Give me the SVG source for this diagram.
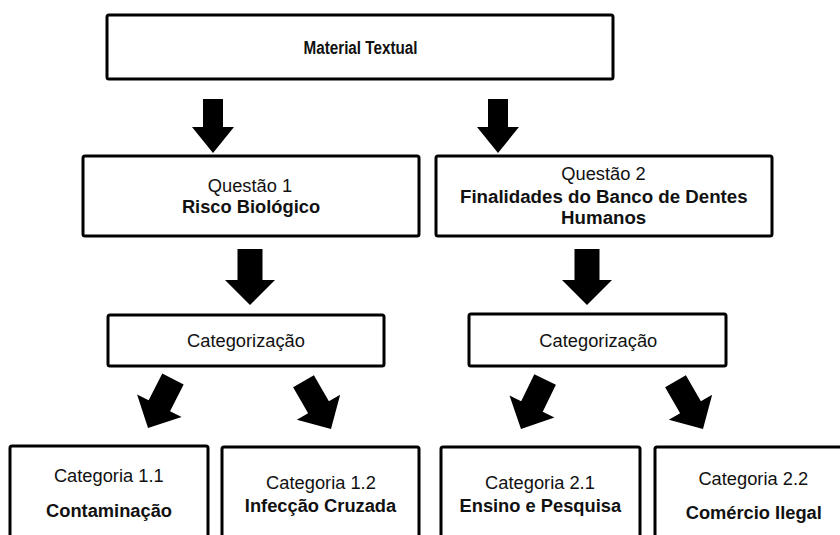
<svg xmlns="http://www.w3.org/2000/svg" width="840" height="535" viewBox="0 0 840 535">
<style>
.box{fill:#fff;stroke:#000;stroke-width:3;}
.t{font-family:"Liberation Sans",Arial,sans-serif;font-size:18.3px;fill:#111;text-anchor:middle;}
.b{font-weight:bold;}
.arr{fill:#000;stroke:none;}
</style>
<defs>
<polygon id="arrS" points="-10,-54 10,-54 10,-26 21,-26 0,0 -21,-26 -10,-26"/>
<polygon id="arrL" points="-12.5,-56 12.5,-56 12.5,-25 25,-25 0,0 -25,-25 -12.5,-25"/>
<polygon id="arrD" points="-12,-55 12,-55 12,-25 25,-25 0,0 -25,-25 -12,-25"/>
</defs>
<rect width="840" height="535" fill="#fff"/>
<g id="connectors" class="arr">
<use href="#arrS" transform="translate(213,153)"/>
<use href="#arrS" transform="translate(498,153)"/>
<use href="#arrL" transform="translate(250,305)"/>
<use href="#arrL" transform="translate(587,305)"/>
<use href="#arrD" transform="translate(148,428) rotate(27)"/>
<use href="#arrD" transform="translate(331,429) rotate(-30)"/>
<use href="#arrD" transform="translate(521,429) rotate(26)"/>
<use href="#arrD" transform="translate(703,429) rotate(-30)"/>
</g>
<g id="material">
<rect class="box" x="107" y="15" width="506" height="64" rx="2"/>
<text class="t b" x="360.5" y="54.3" style="font-size:17.5px" textLength="114" lengthAdjust="spacingAndGlyphs">Material Textual</text>
</g>
<g id="questao1">
<rect class="box" x="83" y="156" width="336" height="80" rx="2"/>
<text class="t" x="250" y="191.7">Questão 1</text>
<text class="t b" x="251" y="213.3">Risco Biológico</text>
</g>
<g id="questao2">
<rect class="box" x="436" y="156" width="336" height="80" rx="2"/>
<text class="t" x="603.5" y="180">Questão 2</text>
<text class="t b" x="603.8" y="203.3" style="font-size:18.7px">Finalidades do Banco de Dentes</text>
<text class="t b" x="603.7" y="224" style="font-size:18.7px">Humanos</text>
</g>
<g id="categorizacao1">
<rect class="box" x="108" y="315" width="276" height="51" rx="2"/>
<text class="t" x="246" y="346.7">Categorização</text>
</g>
<g id="categorizacao2">
<rect class="box" x="469" y="314" width="257" height="52" rx="2"/>
<text class="t" x="598.3" y="347">Categorização</text>
</g>
<g id="categoria11">
<rect class="box" x="10" y="446" width="198" height="100" rx="2"/>
<text class="t" x="108.8" y="482.3">Categoria 1.1</text>
<text class="t b" x="109" y="516.7">Contaminação</text>
</g>
<g id="categoria12">
<rect class="box" x="222" y="447" width="197" height="100" rx="2"/>
<text class="t" x="321" y="489.3">Categoria 1.2</text>
<text class="t b" x="320.5" y="511.7">Infecção Cruzada</text>
</g>
<g id="categoria21">
<rect class="box" x="441" y="447" width="199" height="100" rx="2"/>
<text class="t" x="540" y="489.3">Categoria 2.1</text>
<text class="t b" x="540.3" y="511.7">Ensino e Pesquisa</text>
</g>
<g id="categoria22">
<rect class="box" x="655" y="447" width="200" height="100" rx="2"/>
<text class="t" x="753.3" y="485">Categoria 2.2</text>
<text class="t b" x="753.8" y="519.3">Comércio Ilegal</text>
</g>
</svg>
